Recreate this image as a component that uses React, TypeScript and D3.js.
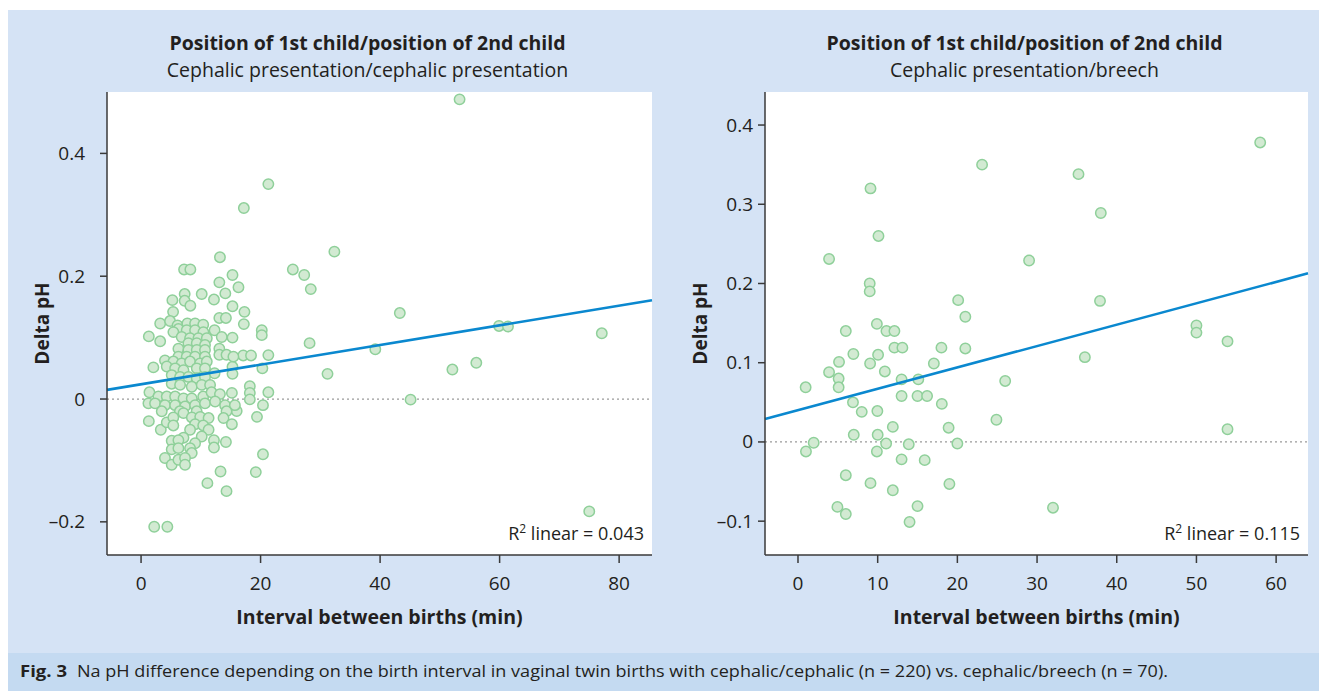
import * as d3 from "d3";

// Position of 2nd child: cephalic (n = 220) -- [interval (min), delta pH]
const cephalicPoints: [number, number][] = [
  [53.3, 0.488], [32.35, 0.24], [25.4, 0.211], [27.3, 0.202], [28.4, 0.179], [43.3, 0.14],
  [59.9, 0.119], [61.4, 0.118], [77.1, 0.107], [28.2, 0.091], [39.2, 0.081], [56.1, 0.059],
  [52.1, 0.048], [31.2, 0.041], [45.1, -0.001], [75.0, -0.183],
  [21.3, 0.35], [17.2, 0.311], [13.2, 0.231], [7.2, 0.211], [8.25, 0.211], [15.3, 0.202],
  [13.1, 0.19], [16.3, 0.182], [14.1, 0.172], [7.3, 0.171], [10.15, 0.171], [5.24, 0.161],
  [7.3, 0.16], [12.2, 0.162], [8.25, 0.152], [15.3, 0.151], [5.36, 0.142], [17.3, 0.142],
  [13.1, 0.132], [14.2, 0.132], [17.2, 0.122], [3.2, 0.123], [4.85, 0.127], [6.1, 0.12],
  [7.75, 0.123], [9.04, 0.123], [10.4, 0.121], [12.3, 0.112], [20.2, 0.112],
  [20.2, 0.104], [21.3, 0.0715], [20.3, 0.05], [21.3, 0.011], [18.2, 0.021], [18.2, 0.01],
  [18.2, -0.0005], [20.4, -0.01], [19.4, -0.029], [20.4, -0.09], [19.2, -0.119], [13.3, -0.118],
  [11.1, -0.137], [14.3, -0.15], [2.2, -0.208], [4.4, -0.208], [14.2, -0.07], [12.2, -0.067],
  [12.2, -0.079], [1.3, 0.102], [3.2, 0.094], [15.3, 0.1], [15.3, 0.0525], [15.3, 0.041],
  [17.1, 0.071], [18.4, 0.071], [15.2, 0.01], [16.0, -0.0195], [1.4, 0.011], [2.06, 0.0515],
  [1.23, -0.007], [1.3, -0.036], [3.3, -0.05],
  [6.25, 0.114], [7.64, 0.112], [9.04, 0.112], [10.43, 0.109], [13.5, 0.101], [5.41, 0.109],
  [6.8, 0.101], [8.2, 0.099], [9.6, 0.099], [11.0, 0.099], [7.92, 0.091], [9.32, 0.091],
  [10.7, 0.088], [6.25, 0.082], [7.92, 0.08], [9.32, 0.08], [10.7, 0.08], [6.25, 0.069],
  [7.64, 0.069], [9.04, 0.069], [10.7, 0.069], [13.1, 0.082], [13.1, 0.072], [14.3, 0.072],
  [15.45, 0.069], [4.0, 0.063], [5.41, 0.061], [6.8, 0.058], [8.2, 0.061], [9.87, 0.058],
  [11.0, 0.061], [4.3, 0.053], [5.7, 0.05], [7.1, 0.047], [9.32, 0.05], [10.7, 0.05],
  [12.3, 0.042], [5.13, 0.039], [6.53, 0.036], [7.92, 0.036], [9.32, 0.034], [10.7, 0.036],
  [5.13, 0.025], [6.53, 0.023], [8.48, 0.02], [10.15, 0.023], [11.55, 0.023], [2.9, 0.004],
  [4.3, 0.004], [5.7, 0.004], [7.1, 0.001], [8.48, 0.001], [10.4, 0.004], [11.8, 0.011],
  [13.2, 0.008], [2.34, -0.007], [4.0, -0.01], [5.7, -0.01], [7.36, -0.012], [9.04, -0.01],
  [10.7, -0.007], [12.4, -0.004], [14.06, -0.01], [15.7, -0.01],
  [3.46, -0.02], [6.5, -0.02], [9.3, -0.02], [14.3, -0.02], [4.3, -0.038], [5.4, -0.03],
  [7.1, -0.023], [8.5, -0.03], [9.9, -0.029], [11.3, -0.031], [13.8, -0.031], [15.2, -0.041],
  [5.4, -0.043], [9.04, -0.041], [10.4, -0.043], [11.3, -0.05], [8.2, -0.05], [10.15, -0.061],
  [7.1, -0.063], [5.13, -0.068], [6.25, -0.067], [9.04, -0.072], [5.13, -0.082], [6.25, -0.08],
  [8.2, -0.08], [8.48, -0.088], [4.0, -0.096], [5.13, -0.107], [6.25, -0.099], [7.36, -0.096],
  [7.36, -0.107],
];

// Position of 2nd child: breech (n = 70)
const breechPoints: [number, number][] = [
  [23.1, 0.35], [9.1, 0.32], [10.1, 0.26], [3.9, 0.231], [29.0, 0.229], [9.0, 0.2],
  [9.0, 0.19], [20.1, 0.179], [21.0, 0.158], [9.9, 0.149], [11.1, 0.14], [12.1, 0.14],
  [6.0, 0.14], [12.1, 0.119], [13.1, 0.119], [18.0, 0.119], [21.0, 0.118], [6.95, 0.111],
  [10.05, 0.11], [5.15, 0.101], [9.05, 0.099], [17.05, 0.099], [3.9, 0.088], [10.9, 0.089],
  [5.1, 0.08], [13.0, 0.079], [15.1, 0.079], [26.0, 0.077], [0.96, 0.069], [5.1, 0.069],
  [13.0, 0.058], [15.0, 0.058], [16.2, 0.058], [6.9, 0.05], [18.05, 0.048], [8.0, 0.038],
  [9.96, 0.039], [24.9, 0.028], [11.9, 0.019], [18.9, 0.018], [7.0, 0.009], [10.0, 0.009],
  [1.97, -0.001], [11.06, -0.002], [13.9, -0.003], [20.0, -0.002], [1.0, -0.012], [9.9, -0.012],
  [13.0, -0.022], [15.9, -0.023], [6.0, -0.042], [9.1, -0.052], [19.0, -0.053], [11.9, -0.061],
  [4.95, -0.082], [15.0, -0.081], [6.0, -0.091], [14.0, -0.101], [58.0, 0.378], [35.2, 0.338],
  [38.0, 0.289], [37.9, 0.178], [50.0, 0.147], [50.0, 0.138], [53.9, 0.127], [36.0, 0.107],
  [53.9, 0.016], [32.0, -0.083],
];

// linear fit: [intercept, slope]
const cephalicFit = [0.024, 0.0016];
const breechFit = [0.04, 0.0027];

const cephalicXTicks = [0, 20, 40, 60, 80];
const cephalicYTicks = [-0.2, 0, 0.2, 0.4];
const breechXTicks = [0, 10, 20, 30, 40, 50, 60];
const breechYTicks = [-0.1, 0, 0.1, 0.2, 0.3, 0.4];

const FONT = "'Open Sans', 'Noto Sans', sans-serif";
const INK = "#231f20";

interface PanelProps {
  points: [number, number][];
  fit: number[];
  r2: string;
  title: string;
  subtitle: string;
  xDomain: [number, number];
  yDomain: [number, number];
  xTicks: number[];
  yTicks: number[];
  left: number;
  right: number;
  labelGap: number;
}

const top = 92;
const bottom = 555;

function fmt(v: number) {
  if (v === 0) return "0";
  const s = d3.format(".1f")(Math.abs(v));
  return v < 0 ? "\u2013" + s : s;
}

function Panel(p: PanelProps) {
  const x = d3.scaleLinear().domain(p.xDomain).range([p.left, p.right]);
  const y = d3.scaleLinear().domain(p.yDomain).range([bottom, top]);
  const cx = (p.left + p.right) / 2;
  const fitLine = d3.line<number>()
    .x(d => x(d))
    .y(d => y(p.fit[0] + p.fit[1] * d));
  return (
    <g>
      <text x={cx - 12} y={50} textAnchor="middle" fontWeight="bold" fontSize={19.5} fill={INK}>{p.title}</text>
      <text x={cx - 12} y={77} textAnchor="middle" fontSize={19.5} fill={INK}>{p.subtitle}</text>
      <rect x={p.left} y={top} width={p.right - p.left} height={bottom - top} fill="#fff" />
      <line x1={p.left} x2={p.right} y1={y(0)} y2={y(0)} stroke="#9a9a9a" strokeWidth={1.2} strokeDasharray="2,3" />
      {p.points.map((d, i) => (
        <circle key={i} cx={x(d[0])} cy={y(d[1])} r={5.2} fill="#d2ead2" stroke="#8fd09a" strokeWidth={1.5} />
      ))}
      <path d={fitLine(p.xDomain) || ""} stroke="#0a88cf" strokeWidth={2.6} fill="none" />
      <text x={p.right - 8} y={540} textAnchor="end" fontSize={18} fill={INK}>
        R<tspan dy={-7} fontSize={12}>2</tspan><tspan dy={7}> linear = {p.r2}</tspan>
      </text>
      {/* axes */}
      <line x1={p.left} x2={p.left} y1={top} y2={bottom} stroke="#3a3a3a" strokeWidth={1.5} />
      <line x1={p.left} x2={p.right} y1={bottom} y2={bottom} stroke="#3a3a3a" strokeWidth={1.5} />
      {p.yTicks.map(t => (
        <g key={t}>
          <line x1={p.left - 7} x2={p.left} y1={y(t)} y2={y(t)} stroke="#3a3a3a" strokeWidth={1.5} />
          <text x={p.left - p.labelGap} y={y(t) + 6.5} textAnchor="end" fontSize={19} fill={INK}>{fmt(t)}</text>
        </g>
      ))}
      {p.xTicks.map(t => (
        <g key={t}>
          <line x1={x(t)} x2={x(t)} y1={bottom} y2={bottom + 8} stroke="#3a3a3a" strokeWidth={1.5} />
          <text x={x(t)} y={590} textAnchor="middle" fontSize={19} fill={INK}>{t}</text>
        </g>
      ))}
      <text x={cx} y={624} textAnchor="middle" fontWeight="bold" fontSize={19.5} fill={INK}>Interval between births (min)</text>
      <text transform={`translate(${p.left - 58},${(top + bottom) / 2}) rotate(-90)`} textAnchor="middle"
        fontWeight="bold" fontSize={19} fill={INK}>Delta pH</text>
    </g>
  );
}

export default function App() {
  return (
    <svg width={1319} height={691} style={{ position: "absolute", left: 0, top: 0 }} fontFamily={FONT}>
      <rect x={0} y={0} width={1319} height={691} fill="#fff" />
      <rect x={8} y={10} width={1311} height={681} fill="#d5e3f5" />
      <rect x={8} y={653} width={1311} height={38} fill="#c4daf1" />
      <Panel points={cephalicPoints} fit={cephalicFit} r2="0.043"
        title="Position of 1st child/position of 2nd child"
        subtitle="Cephalic presentation/cephalic presentation"
        xDomain={[-5.7, 85.5]} yDomain={[-0.254, 0.5]}
        xTicks={cephalicXTicks} yTicks={cephalicYTicks} left={107} right={652} labelGap={22} />
      <Panel points={breechPoints} fit={breechFit} r2="0.115"
        title="Position of 1st child/position of 2nd child"
        subtitle="Cephalic presentation/breech"
        xDomain={[-4.14, 64.0]} yDomain={[-0.1427, 0.4417]}
        xTicks={breechXTicks} yTicks={breechYTicks} left={765} right={1308} labelGap={12} />
      <text x={20} y={677} fontSize={16} fontWeight="bold" fill={INK} textLength={47} lengthAdjust="spacingAndGlyphs">Fig. 3</text>
      <text x={77} y={677} fontSize={16.5} fill={INK} textLength={1091} lengthAdjust="spacingAndGlyphs">
        Na pH difference depending on the birth interval in vaginal twin births with cephalic/cephalic (n = 220) vs. cephalic/breech (n = 70).
      </text>
    </svg>
  );
}
